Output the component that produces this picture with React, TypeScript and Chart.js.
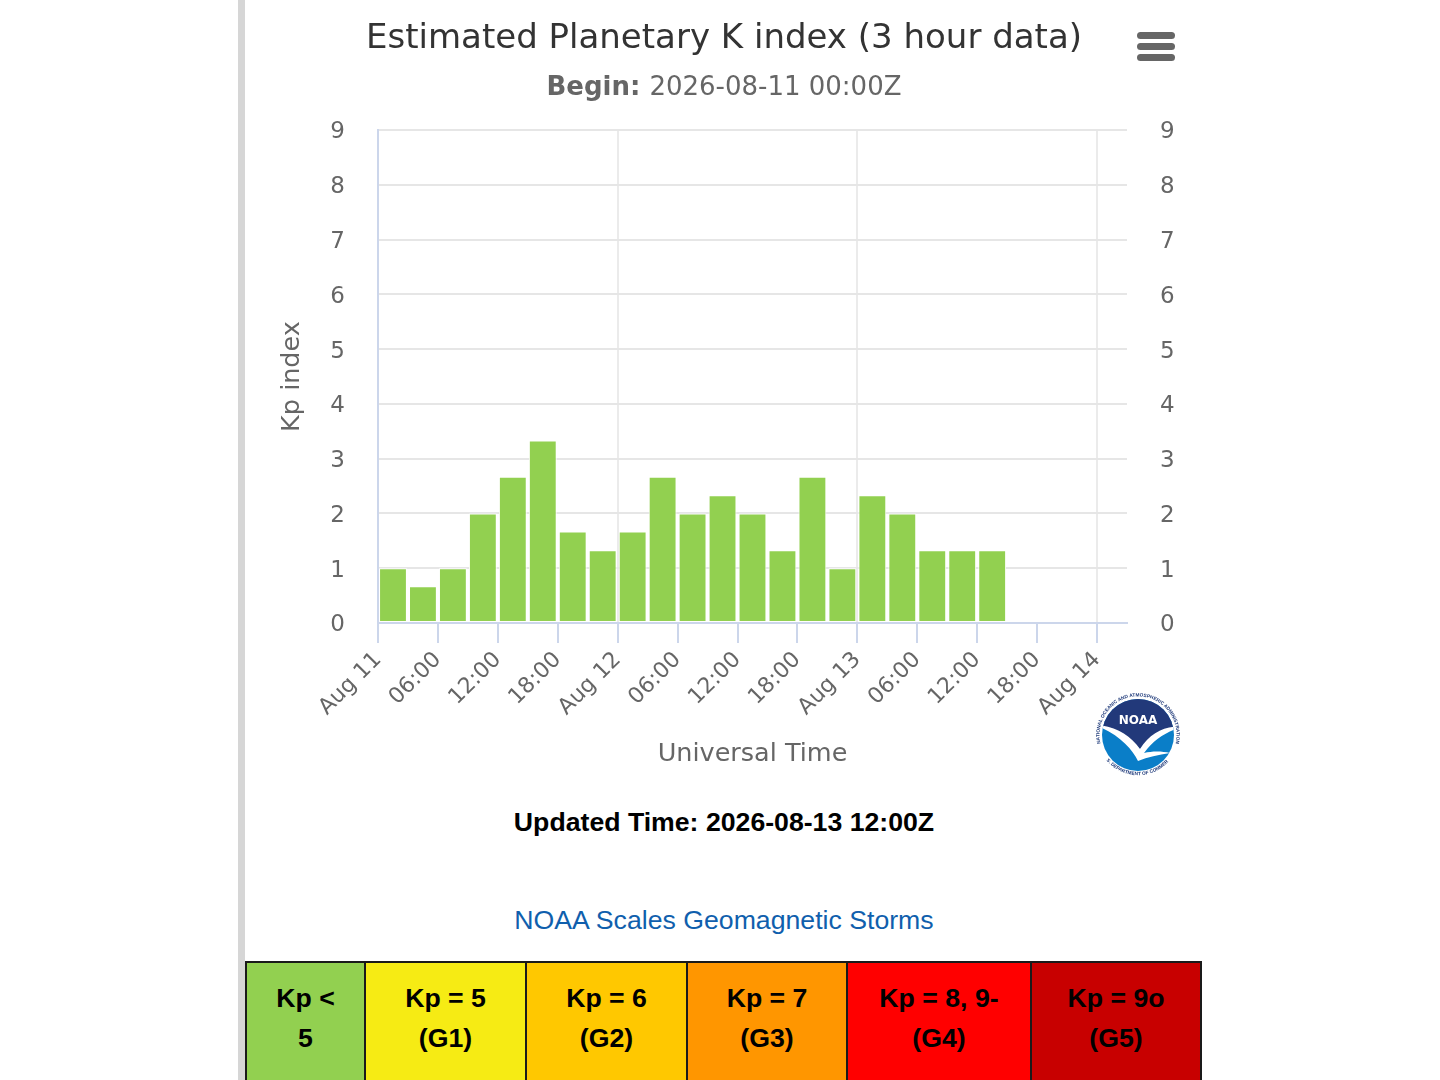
import React, { useEffect, useRef } from 'react';
import { Chart, registerables } from 'chart.js';

Chart.register(...registerables);

// ---------- data ----------
const chartTitle = 'Estimated Planetary K index (3 hour data)';
const subtitleLabel = 'Begin:';
const subtitleValue = '2026-08-11 00:00Z';
const xAxisTitle = 'Universal Time';
const yAxisTitle = 'Kp index';
const updatedText = 'Updated Time: 2026-08-13 12:00Z';
const scalesLinkText = 'NOAA Scales Geomagnetic Storms';

// day labels shown at 00:00 of each day (hours since begin = 0, 24, 48, 72)
const dayLabels = ['Aug 11', 'Aug 12', 'Aug 13', 'Aug 14'];
// start of each 3-hour interval, hours since 2026-08-11 00:00Z
const slotStartHours = [0, 3, 6, 9, 12, 15, 18, 21, 24, 27, 30, 33, 36, 39, 42, 45, 48, 51, 54, 57, 60];
// estimated Kp for each interval
const kpValues = [1, 0.67, 1, 2, 2.67, 3.33, 1.67, 1.33, 1.67, 2.67, 2, 2.33, 2, 1.33, 2.67, 1, 2.33, 2, 1.33, 1.33, 1.33];
const slotHours = 3;
const xMinHours = 0;
const xMaxHours = 75;
const xTickStepHours = 6;
const yMin = 0;
const yMax = 9;

const stormScaleLines = [
  ['Kp <', '5'],
  ['Kp = 5', '(G1)'],
  ['Kp = 6', '(G2)'],
  ['Kp = 7', '(G3)'],
  ['Kp = 8, 9-', '(G4)'],
  ['Kp = 9o', '(G5)'],
];

// ---------- styles ----------
const stormScaleColors = ['#92D050', '#F6EB14', '#FFC800', '#FF9600', '#FF0000', '#C80000'];
const stormScaleWidths = [119, 161, 161, 160, 184, 170];
const FONT = '"DejaVu Sans", Verdana, sans-serif';
const ARIAL = '"Liberation Sans", Arial, Helvetica, sans-serif';

const CANVAS_W = 958;
const CANVAS_H = 800;

const subtitlePlugin = {
  id: 'mixedSubtitle',
  afterDraw(chart: any) {
    const ctx = chart.ctx as CanvasRenderingContext2D;
    ctx.save();
    const bold = `bold 26px ${FONT}`;
    const normal = `26px ${FONT}`;
    ctx.font = bold;
    const w1 = ctx.measureText(subtitleLabel + ' ').width;
    ctx.font = normal;
    const w2 = ctx.measureText(subtitleValue).width;
    let x = chart.width / 2 - (w1 + w2) / 2;
    const y = 88;
    ctx.textBaseline = 'middle';
    ctx.textAlign = 'left';
    ctx.fillStyle = '#666666';
    ctx.font = bold;
    ctx.fillText(subtitleLabel + ' ', x, y);
    x += w1;
    ctx.font = normal;
    ctx.fillText(subtitleValue, x, y);
    ctx.restore();
  },
};

function hourLabel(v: number): string {
  if (v % 24 === 0) return dayLabels[v / 24] ?? '';
  const h = v % 24;
  return (h < 10 ? '0' : '') + h + ':00';
}

function KpChart() {
  const ref = useRef<HTMLCanvasElement | null>(null);
  useEffect(() => {
    if (!ref.current) return;
    const points = slotStartHours.map((h, i) => ({ x: h + slotHours / 2, y: kpValues[i] }));
    const chart = new Chart(ref.current, {
      type: 'bar',
      data: {
        datasets: [
          {
            data: points as any,
            backgroundColor: '#92D050',
            borderColor: '#ffffff',
            borderWidth: 1,
            borderSkipped: false,
            barPercentage: 1,
            categoryPercentage: 0.93,
            yAxisID: 'y',
          },
        ],
      },
      options: {
        responsive: false,
        animation: false,
        devicePixelRatio: 1,
        layout: { padding: 0 },
        plugins: {
          legend: { display: false },
          tooltip: { enabled: false },
          title: {
            display: true,
            text: chartTitle,
            color: '#333333',
            font: { family: FONT, size: 34, weight: 'normal', lineHeight: 1.2 },
            padding: { top: 18.5, bottom: 70.7 },
          },
        },
        scales: {
          x: {
            type: 'linear',
            min: xMinHours,
            max: xMaxHours,
            offset: false,
            afterFit: (s: any) => {
              s.height = 177;
            },
            ticks: {
              stepSize: xTickStepHours,
              includeBounds: false,
              autoSkip: false,
              maxRotation: 45,
              minRotation: 45,
              padding: 4,
              color: '#666666',
              font: { family: FONT, size: 22 },
              callback: (v: any) => hourLabel(Number(v)),
            },
            grid: {
              display: true,
              offset: false,
              drawOnChartArea: true,
              drawTicks: true,
              tickLength: 20,
              tickWidth: 2,
              tickColor: '#ccd6eb',
              lineWidth: 2,
              color: (c: any) => (c.tick && c.tick.value % 24 === 0 ? '#ebebeb' : 'rgba(0,0,0,0)'),
            },
            border: { display: true, color: '#ccd6eb', width: 2 },
            title: {
              display: true,
              text: xAxisTitle,
              color: '#666666',
              font: { family: FONT, size: 25.5 },
              padding: { top: 0, bottom: 30 },
            },
          },
          y: {
            type: 'linear',
            position: 'left',
            min: yMin,
            max: yMax,
            afterFit: (s: any) => {
              s.width = 133;
            },
            ticks: {
              stepSize: 1,
              padding: 33,
              labelOffset: 2.5,
              color: '#666666',
              font: { family: FONT, size: 23 },
            },
            grid: { color: '#e6e6e6', lineWidth: 2, drawTicks: false },
            border: { display: true, color: '#ccd6eb', width: 2 },
            title: {
              display: true,
              text: yAxisTitle,
              color: '#666666',
              font: { family: FONT, size: 25.5 },
              padding: { top: 32, bottom: 0 },
            },
          },
          y2: {
            type: 'linear',
            position: 'right',
            min: yMin,
            max: yMax,
            afterFit: (s: any) => {
              s.width = CANVAS_W - 882;
            },
            ticks: {
              stepSize: 1,
              padding: 33,
              labelOffset: 2.5,
              color: '#666666',
              font: { family: FONT, size: 23 },
            },
            grid: { display: false, drawTicks: false },
            border: { display: false },
          },
        },
      } as any,
      plugins: [subtitlePlugin],
    });
    return () => chart.destroy();
  }, []);
  return (
    <canvas
      ref={ref}
      width={CANVAS_W}
      height={CANVAS_H}
      style={{ position: 'absolute', left: 245, top: 0, width: CANVAS_W, height: CANVAS_H }}
    />
  );
}

function NoaaLogo() {
  return (
    <svg
      width={96}
      height={96}
      viewBox="0 0 96 96"
      style={{ position: 'absolute', left: 1090, top: 687 }}
    >
      <defs>
        <clipPath id="noaaInner">
          <circle cx={48} cy={48} r={36} />
        </clipPath>
        <path id="noaaTopArc" d="M 14.7 67.2 A 38.5 38.5 0 1 1 81.3 67.2" />
        <path id="noaaBottomArc" d="M 17 74 A 41 41 0 0 0 79 74" />
      </defs>
      <circle cx={48} cy={48} r={46} fill="#ffffff" />
      <text fontSize={4.8} fill="#1f3a7a" fontFamily={ARIAL} fontWeight="bold">
        <textPath href="#noaaTopArc" startOffset="50%" textAnchor="middle">
          NATIONAL OCEANIC AND ATMOSPHERIC ADMINISTRATION
        </textPath>
      </text>
      <text fontSize={4.8} fill="#1f3a7a" fontFamily={ARIAL} fontWeight="bold">
        <textPath href="#noaaBottomArc" startOffset="50%" textAnchor="middle">
          U.S. DEPARTMENT OF COMMERCE
        </textPath>
      </text>
      <g clipPath="url(#noaaInner)">
        <rect x={0} y={0} width={96} height={96} fill="#0a7ec8" />
        <path d="M0 0 H96 V40 C80 38 62 46 50 62 C40 50 26 40 0 38 Z" fill="#22397a" />
        <path
          d="M4 38 C24 38 40 48 50 62 C60 46 76 38 92 40 C78 44 64 52 54 66 C62 64 72 64 80 66 C68 68 58 70 48 74 C42 62 28 46 4 38 Z"
          fill="#ffffff"
        />
      </g>
      <text
        x={48}
        y={37}
        fontSize={12}
        fontWeight="bold"
        fill="#ffffff"
        textAnchor="middle"
        fontFamily={FONT}
      >
        NOAA
      </text>
    </svg>
  );
}

function Hamburger() {
  const bar = (top: number) => (
    <div
      key={top}
      style={{
        position: 'absolute',
        left: 1137,
        top,
        width: 38,
        height: 7,
        borderRadius: 3.5,
        background: '#666666',
      }}
    />
  );
  return <>{[32, 43, 54].map(bar)}</>;
}

export default function App() {
  return (
    <div
      style={{
        position: 'fixed',
        left: 0,
        top: 0,
        width: 1440,
        height: 1080,
        background: '#ffffff',
        overflow: 'hidden',
      }}
    >
      <div style={{ position: 'absolute', left: 238, top: 0, width: 7, height: 1080, background: '#d6d6d6' }} />
      <KpChart />
      <Hamburger />
      <NoaaLogo />
      <div
        style={{
          position: 'absolute',
          left: 245,
          width: 958,
          top: 802,
          textAlign: 'center',
          fontFamily: ARIAL,
          fontWeight: 'bold',
          fontSize: 26.67,
          lineHeight: '40px',
          color: '#000000',
        }}
      >
        {updatedText}
      </div>
      <div
        style={{
          position: 'absolute',
          left: 245,
          width: 958,
          top: 900,
          textAlign: 'center',
          fontFamily: ARIAL,
          fontSize: 26.67,
          lineHeight: '40px',
          color: '#105fad',
        }}
      >
        {scalesLinkText}
      </div>
      <table
        style={{
          position: 'absolute',
          left: 245,
          top: 961,
          width: 956,
          borderCollapse: 'collapse',
          border: '2px solid #1a1a1a',
          fontFamily: ARIAL,
          fontWeight: 'bold',
          fontSize: 26.67,
          lineHeight: '40px',
          color: '#000000',
          tableLayout: 'fixed',
        }}
      >
        <tbody>
          <tr>
            {stormScaleLines.map((lines, i) => (
              <td
                key={i}
                style={{
                  width: stormScaleWidths[i],
                  background: stormScaleColors[i],
                  border: '2px solid #1a1a1a',
                  textAlign: 'center',
                  verticalAlign: 'top',
                  padding: '15px 4px 0 4px',
                  height: 140,
                  boxSizing: 'border-box',
                }}
              >
                {lines[0]}
                <br />
                {lines[1]}
              </td>
            ))}
          </tr>
        </tbody>
      </table>
    </div>
  );
}
